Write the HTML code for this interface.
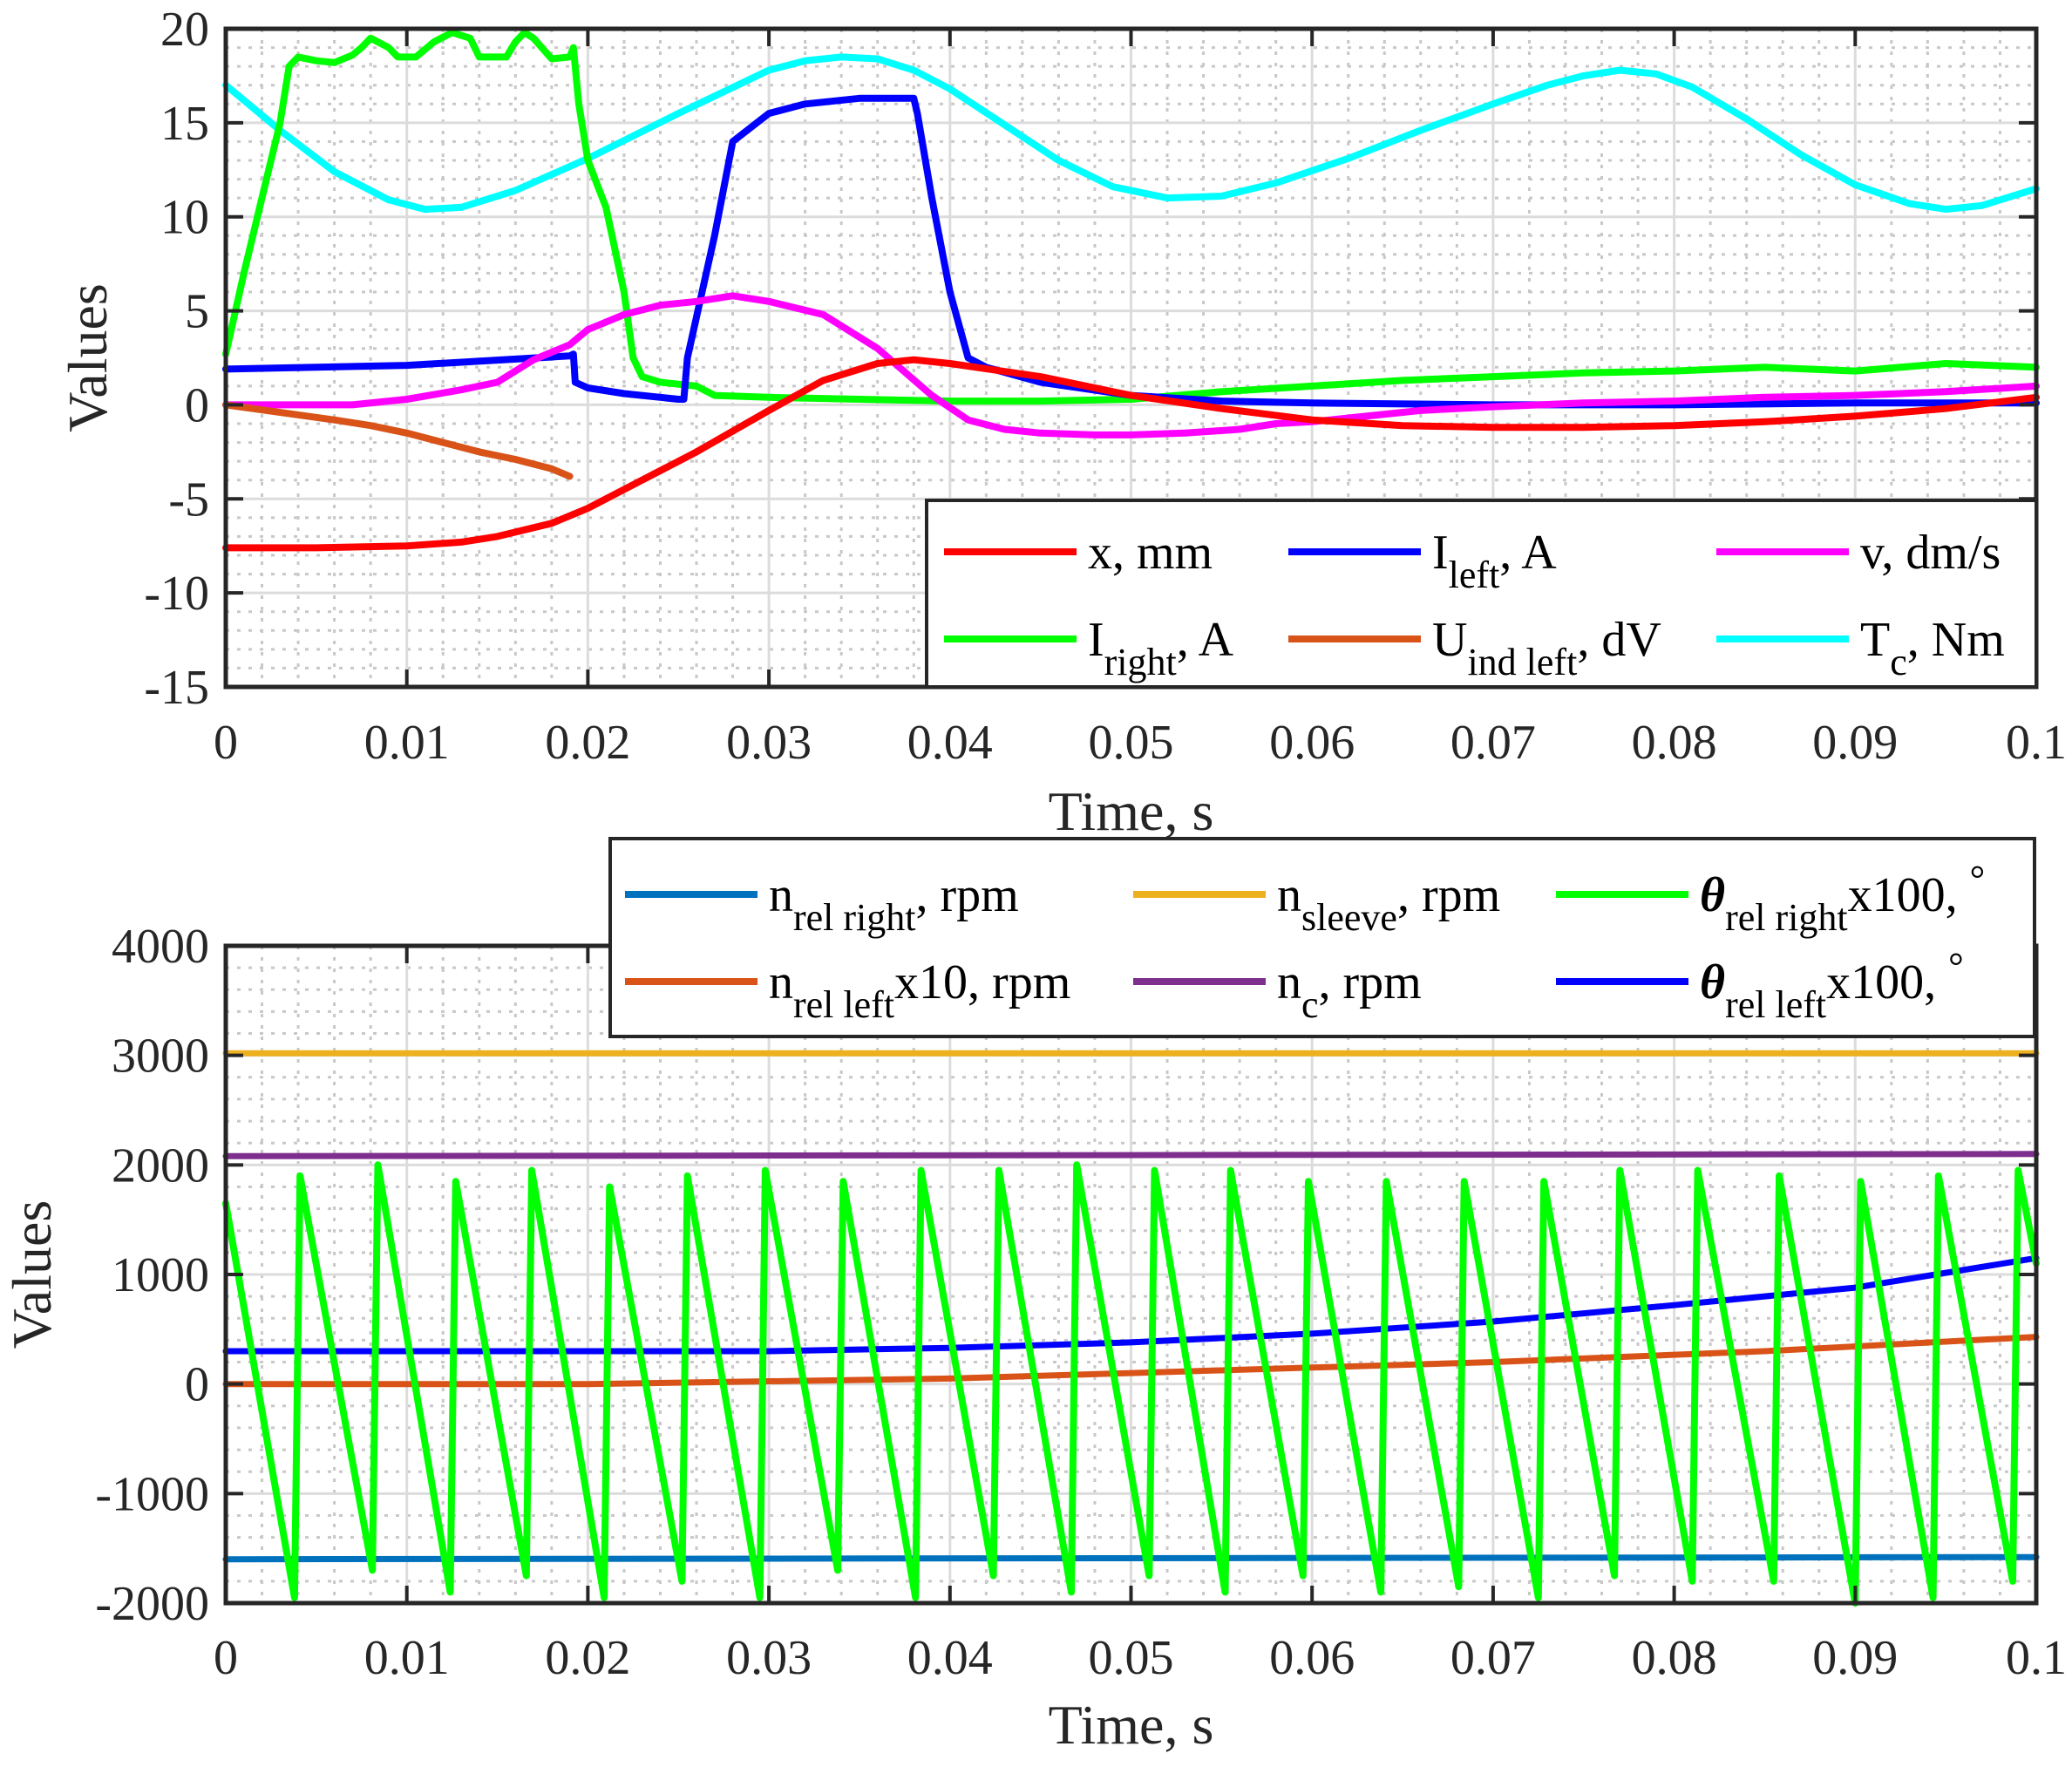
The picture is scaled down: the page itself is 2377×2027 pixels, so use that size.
<!DOCTYPE html>
<html><head><meta charset="utf-8"><style>
html,body{margin:0;padding:0;background:#fff}
svg{display:block;font-family:"Liberation Serif",serif}
</style></head><body>
<svg id="fig" width="2377" height="2027" viewBox="0 0 2377 2027" xmlns="http://www.w3.org/2000/svg">
<rect width="2377" height="2027" fill="#fff"/>
</svg>
<script>
// ---------- top chart data ----------
const xTicks=[0,0.01,0.02,0.03,0.04,0.05,0.06,0.07,0.08,0.09,0.1];
const xTickLabels=["0","0.01","0.02","0.03","0.04","0.05","0.06","0.07","0.08","0.09","0.1"];
const topYTicks=[20,15,10,5,0,-5,-10,-15];
const topYTickLabels=["20","15","10","5","0","-5","-10","-15"];
const iRightT=[0,0.001,0.002,0.003,0.0035,0.004,0.005,0.006,0.007,0.0075,0.008,0.009,0.0095,0.0105,0.0115,0.0125,0.0135,0.014,0.0155,0.016,0.0165,0.017,0.018,0.019,0.0192,0.0195,0.02,0.021,0.022,0.0225,0.023,0.024,0.026,0.027,0.03,0.035,0.04,0.045,0.05,0.055,0.06,0.065,0.07,0.075,0.08,0.085,0.09,0.095,0.1];
const iRightV=[2.7,7,11,15,18,18.5,18.3,18.2,18.6,19,19.5,19,18.5,18.5,19.3,19.8,19.5,18.5,18.5,19.3,19.8,19.5,18.4,18.5,19,16,13,10.5,6,2.5,1.5,1.2,1.0,0.5,0.4,0.3,0.2,0.2,0.3,0.7,1.0,1.3,1.5,1.7,1.8,2.0,1.8,2.2,2.0];
const tcT=[0,0.003,0.006,0.009,0.011,0.013,0.016,0.02,0.025,0.03,0.032,0.034,0.036,0.038,0.04,0.043,0.046,0.049,0.052,0.055,0.058,0.062,0.066,0.07,0.073,0.075,0.077,0.079,0.081,0.084,0.087,0.09,0.093,0.095,0.097,0.1];
const tcV=[17,14.6,12.4,10.9,10.4,10.5,11.4,13.1,15.5,17.8,18.3,18.5,18.4,17.8,16.8,14.9,13,11.6,11,11.1,11.8,13.1,14.6,16,17,17.5,17.8,17.6,16.9,15.2,13.3,11.7,10.7,10.4,10.6,11.5];
const iLeftT=[0,0.01,0.019,0.0192,0.0193,0.02,0.022,0.025,0.0253,0.0255,0.027,0.028,0.03,0.032,0.035,0.038,0.0382,0.039,0.04,0.041,0.042,0.045,0.05,0.055,0.06,0.07,0.08,0.09,0.1];
const iLeftV=[1.9,2.1,2.6,2.7,1.2,0.9,0.6,0.3,0.3,2.5,9,14,15.5,16,16.3,16.3,15.5,11,6,2.5,2,1.2,0.5,0.2,0.1,0.0,0.0,0.1,0.1];
const vT=[0,0.007,0.01,0.013,0.015,0.017,0.019,0.02,0.022,0.024,0.026,0.028,0.03,0.033,0.036,0.039,0.041,0.043,0.045,0.048,0.05,0.053,0.056,0.058,0.06,0.063,0.066,0.07,0.075,0.08,0.085,0.09,0.095,0.1];
const vV=[0,0,0.3,0.8,1.2,2.4,3.2,4,4.8,5.3,5.5,5.8,5.5,4.8,3.0,0.5,-0.8,-1.3,-1.5,-1.6,-1.6,-1.5,-1.3,-1.0,-0.9,-0.6,-0.3,-0.1,0.1,0.2,0.4,0.5,0.7,1.0];
const xT=[0,0.005,0.01,0.013,0.015,0.018,0.02,0.023,0.026,0.03,0.033,0.036,0.038,0.04,0.045,0.05,0.055,0.06,0.065,0.07,0.075,0.08,0.085,0.09,0.095,0.1];
const xV=[-7.6,-7.6,-7.5,-7.3,-7.0,-6.3,-5.5,-4.0,-2.5,-0.3,1.3,2.2,2.4,2.2,1.5,0.5,-0.2,-0.8,-1.1,-1.2,-1.2,-1.1,-0.9,-0.6,-0.2,0.4];
const uT=[0,0.003,0.006,0.008,0.01,0.012,0.014,0.016,0.018,0.019];
const uV=[0,-0.4,-0.8,-1.1,-1.5,-2.0,-2.5,-2.9,-3.4,-3.8];
// ---------- bottom chart data ----------
const botYTicks=[4000,3000,2000,1000,0,-1000,-2000];
const botYTickLabels=["4000","3000","2000","1000","0","-1000","-2000"];
const flatT=[0,0.1];
const nSleeveV=[3020,3020];
const nCV=[2080,2100];
const nRelRightV=[-1600,-1580];
const nLeftT=[0,0.02,0.04,0.05,0.06,0.07,0.085,0.1];
const nLeftV=[0,0,50,100,150,200,300,430];
const thLeftT=[0,0.03,0.04,0.05,0.06,0.07,0.08,0.09,0.1];
const thLeftV=[300,300,330,380,460,570,720,880,1150];
const sawJumpT=[0.0038,0.0081,0.0124,0.0166,0.0209,0.0252,0.0295,0.0338,0.0381,0.0424,0.0467,0.0510,0.0552,0.0595,0.0638,0.0681,0.0725,0.0767,0.0810,0.0855,0.0900,0.0943,0.0987];
const sawPeakV=[1900,2000,1850,1950,1800,1900,1950,1850,1950,1950,2000,1950,1950,1850,1850,1850,1850,1950,1950,1900,1850,1900,1950];
const sawTroughV=[-1950,-1700,-1900,-1750,-1950,-1800,-1950,-1700,-1950,-1750,-1900,-1750,-1900,-1750,-1900,-1850,-1950,-1750,-1800,-1800,-2000,-1950,-1800];
const sawStartV=1650, sawEndV=1100;

const NS="http://www.w3.org/2000/svg";
const svg=document.getElementById('fig');
function mk(tag,attrs,parent){const e=document.createElementNS(NS,tag);for(const k in attrs)e.setAttribute(k,attrs[k]);(parent||svg).appendChild(e);return e;}
const L=259,R=2336;
const sx=t=>L+(t/0.1)*(R-L);
const topAx={top:33,bot:788,min:-15,max:20};
const botAx={top:1085,bot:1839,min:-2000,max:4000};
const sy=(ax,v)=>ax.bot-(v-ax.min)/(ax.max-ax.min)*(ax.bot-ax.top);

function grid(ax,yMajor,yMinor,name){
  const g=mk('g',{});
  
  
  for(let t=0.002;t<0.1;t+=0.002){const x=sx(t);if(Math.abs(t/0.01-Math.round(t/0.01))<1e-6)continue;
    mk('line',{x1:x,x2:x,y1:ax.top,y2:ax.bot,stroke:'#c8c8c8','stroke-width':3,'stroke-dasharray':'4 9'},g);}
  for(let v=ax.min;v<=ax.max+1e-9;v+=yMinor){if(Math.abs(v/yMajor-Math.round(v/yMajor))<1e-6)continue;const y=sy(ax,v);
    mk('line',{x1:L,x2:R,y1:y,y2:y,stroke:'#c8c8c8','stroke-width':3,'stroke-dasharray':'4 9'},g);}
  for(const t of xTicks){const x=sx(t);mk('line',{x1:x,x2:x,y1:ax.top,y2:ax.bot,stroke:'#dcdcdc','stroke-width':3},g);}
  for(let v=ax.min;v<=ax.max+1e-9;v+=yMajor){const y=sy(ax,v);mk('line',{x1:L,x2:R,y1:y,y2:y,stroke:'#dcdcdc','stroke-width':3},g);}
}
function line(ax,ts,vs,color,w,name){
  const p=ts.map((t,i)=>sx(t).toFixed(1)+','+sy(ax,vs[i]).toFixed(1)).join(' ');
  const e=mk('polyline',{points:p,fill:'none',stroke:color,'stroke-width':w,'stroke-linejoin':'round','stroke-linecap':'round'});
  
  
}
function axes(ax,yTicks,yLabels,name,xlabY,ylabX,ylabel,xlabelY){
  const g=mk('g',{});
  
  
  mk('rect',{x:L,y:ax.top,width:R-L,height:ax.bot-ax.top,fill:'none',stroke:'#262626','stroke-width':5},g);
  xTicks.forEach((t,i)=>{const x=sx(t);
    mk('line',{x1:x,x2:x,y1:ax.bot,y2:ax.bot-20,stroke:'#262626','stroke-width':4},g);
    mk('line',{x1:x,x2:x,y1:ax.top,y2:ax.top+20,stroke:'#262626','stroke-width':4},g);
    const tx=mk('text',{x:x,y:xlabY,'font-size':56,'text-anchor':'middle',fill:'#262626'},g);tx.textContent=xTickLabels[i];
    
    });
  yTicks.forEach((v,i)=>{const y=sy(ax,v);
    mk('line',{x1:L,x2:L+20,y1:y,y2:y,stroke:'#262626','stroke-width':4},g);
    mk('line',{x1:R,x2:R-20,y1:y,y2:y,stroke:'#262626','stroke-width':4},g);
    const tx=mk('text',{x:240,y:y+19,'font-size':56,'text-anchor':'end',fill:'#262626'},g);tx.textContent=yLabels[i];
    
    });
  const yl=mk('text',{x:0,y:0,'font-size':64,'text-anchor':'middle',fill:'#262626',transform:`translate(${ylabX},${(ax.top+ax.bot)/2}) rotate(-90)`},g);yl.textContent=ylabel;
  
  
  const xl=mk('text',{x:(L+R)/2,y:xlabelY,'font-size':64,'text-anchor':'middle',fill:'#262626'},g);xl.textContent='Time, s';
  
  
}
// top
grid(topAx,5,1,'top');
line(topAx,tcT,tcV,'#00ffff',8,'tc-line');
line(topAx,iRightT,iRightV,'#00ff00',8,'i-right-line');
line(topAx,iLeftT,iLeftV,'#0000ff',8,'i-left-line');
line(topAx,vT,vV,'#ff00ff',8,'v-line');
line(topAx,xT,xV,'#ff0000',8,'x-line');
line(topAx,uT,uV,'#d95319',8,'u-ind-left-line');
axes(topAx,topYTicks,topYTickLabels,'top',870,122,'Values',952);
// bottom
grid(botAx,1000,200,'bottom');
line(botAx,flatT,nSleeveV,'#edb120',7,'n-sleeve-line');
line(botAx,flatT,nCV,'#7e2f8e',7,'n-c-line');
line(botAx,flatT,nRelRightV,'#0072bd',7,'n-rel-right-line');
line(botAx,nLeftT,nLeftV,'#d95319',7,'n-rel-left-line');
line(botAx,thLeftT,thLeftV,'#0000ff',7,'theta-rel-left-line');
const sawT=[0],sawV=[sawStartV];
sawJumpT.forEach((t,i)=>{sawT.push(t,t+0.0003);sawV.push(sawTroughV[i],sawPeakV[i]);});
sawT.push(0.1);sawV.push(sawEndV);
line(botAx,sawT,sawV,'#00ff00',8,'theta-rel-right-line');
axes(botAx,botYTicks,botYTickLabels,'bottom',1920,58,'Values',2000);

// legends
function legend(box,items,name){
  const g=mk('g',{});
  
  
  mk('rect',{x:box.x,y:box.y,width:box.w,height:box.h,fill:'#fff',stroke:'#262626','stroke-width':4},g);
  items.forEach(it=>{
    const e=mk('g',{},g);
    
    
    mk('line',{x1:it.x,x2:it.x+152,y1:it.y,y2:it.y,stroke:it.c,'stroke-width':8},e);
    const t=mk('text',{x:it.x+165,y:it.y+19,'font-size':56,fill:'#000'},e);
    it.parts.forEach(p=>{const s=mk('tspan',{},t);s.textContent=p[0];
      if(p[1]==='sub'){s.setAttribute('font-size',44);s.setAttribute('dy',22);}
      if(p[1]==='up'){s.setAttribute('dy',-22);}
      if(p[1]==='th'){s.setAttribute('font-weight','bold');s.setAttribute('font-style','italic');}
      if(p[1]==='sup'){s.setAttribute('dy',-22);s.setAttribute('font-size',44);}
    });
  });
}
legend({x:1063,y:574,w:1273,h:214},[
 {x:1083,y:633,c:'#ff0000',parts:[['x, mm']]},
 {x:1478,y:633,c:'#0000ff',parts:[['I'],['left','sub'],[', A','up']]},
 {x:1969,y:633,c:'#ff00ff',parts:[['v, dm/s']]},
 {x:1083,y:733,c:'#00ff00',parts:[['I'],['right','sub'],[', A','up']]},
 {x:1478,y:733,c:'#d95319',parts:[['U'],['ind left','sub'],[', dV','up']]},
 {x:1969,y:733,c:'#00ffff',parts:[['T'],['c','sub'],[', Nm','up']]}
],'top-legend');
legend({x:700,y:962,w:1634,h:227},[
 {x:717,y:1026,c:'#0072bd',parts:[['n'],['rel right','sub'],[', rpm','up']]},
 {x:1300,y:1026,c:'#edb120',parts:[['n'],['sleeve','sub'],[', rpm','up']]},
 {x:1785,y:1026,c:'#00ff00',parts:[['θ','th'],['rel right','sub'],['x100, ','up'],['°','sup']]},
 {x:717,y:1126,c:'#d95319',parts:[['n'],['rel left','sub'],['x10, rpm','up']]},
 {x:1300,y:1126,c:'#7e2f8e',parts:[['n'],['c','sub'],[', rpm','up']]},
 {x:1785,y:1126,c:'#0000ff',parts:[['θ','th'],['rel left','sub'],['x100, ','up'],['°','sup']]}
],'bottom-legend');
</script>
</body></html>
